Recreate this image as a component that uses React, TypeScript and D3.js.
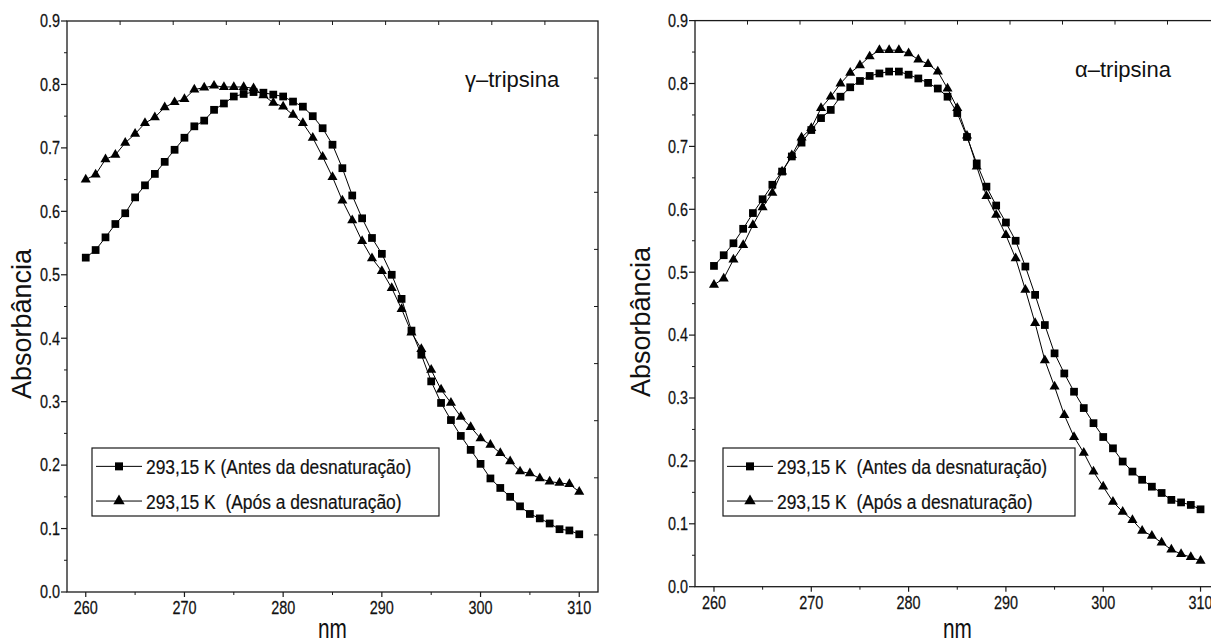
import * as d3 from "d3";

// wavelength (nm), one point per nm
const wavelength = [
  260, 261, 262, 263, 264, 265, 266, 267, 268, 269, 270, 271, 272, 273, 274, 275, 276,
  277, 278, 279, 280, 281, 282, 283, 284, 285, 286, 287, 288, 289, 290, 291, 292, 293,
  294, 295, 296, 297, 298, 299, 300, 301, 302, 303, 304, 305, 306, 307, 308, 309, 310,
];

// gamma-tripsina
const gammaAntes = [
  0.527, 0.539, 0.559, 0.58, 0.597, 0.622, 0.641, 0.659, 0.678, 0.697, 0.716, 0.734, 0.743,
  0.76, 0.77, 0.781, 0.785, 0.788, 0.787, 0.784, 0.781, 0.773, 0.765, 0.75, 0.731, 0.705,
  0.668, 0.625, 0.589, 0.558, 0.533, 0.5, 0.462, 0.412, 0.374, 0.332, 0.298, 0.271, 0.246,
  0.224, 0.202, 0.179, 0.164, 0.15, 0.135, 0.123, 0.116, 0.108, 0.099, 0.097, 0.091,
];
const gammaApos = [
  0.65, 0.658, 0.682, 0.689, 0.708, 0.722, 0.739, 0.748, 0.764, 0.772, 0.777, 0.792, 0.795,
  0.798, 0.796, 0.796, 0.796, 0.794, 0.783, 0.771, 0.765, 0.752, 0.739, 0.716, 0.686, 0.654,
  0.617, 0.586, 0.553, 0.526, 0.506, 0.479, 0.446, 0.409, 0.383, 0.35, 0.319, 0.298, 0.276,
  0.26, 0.242, 0.232, 0.219, 0.206, 0.19, 0.187, 0.179, 0.174, 0.172, 0.17, 0.158,
];

// alpha-tripsina
const alphaAntes = [
  0.51, 0.527, 0.546, 0.569, 0.594, 0.616, 0.639, 0.66, 0.684, 0.706, 0.726, 0.745, 0.758,
  0.779, 0.794, 0.804, 0.812, 0.816, 0.819, 0.819, 0.814, 0.808, 0.801, 0.792, 0.779, 0.753,
  0.715, 0.673, 0.636, 0.606, 0.579, 0.55, 0.509, 0.464, 0.416, 0.371, 0.339, 0.31, 0.284,
  0.26, 0.238, 0.22, 0.199, 0.183, 0.17, 0.159, 0.149, 0.138, 0.134, 0.13, 0.123,
];
const alphaApos = [
  0.48, 0.49, 0.52, 0.543, 0.575, 0.603, 0.626, 0.66, 0.686, 0.714, 0.729, 0.761, 0.779,
  0.8, 0.817, 0.829, 0.843, 0.853, 0.853, 0.853, 0.848, 0.838, 0.831, 0.819, 0.792, 0.761,
  0.717, 0.668, 0.621, 0.591, 0.559, 0.522, 0.472, 0.419, 0.36, 0.318, 0.273, 0.238, 0.213,
  0.183, 0.159, 0.135, 0.119, 0.106, 0.089, 0.081, 0.07, 0.059, 0.052, 0.047, 0.041,
];

const xTicks = [260, 270, 280, 290, 300, 310];
const xMinor = [265, 275, 285, 295, 305];
const yTicks = [0, 0.1, 0.2, 0.3, 0.4, 0.5, 0.6, 0.7, 0.8, 0.9];
const yMinor = [0.05, 0.15, 0.25, 0.35, 0.45, 0.55, 0.65, 0.75, 0.85];
const frameDivs = [1, 2, 3, 4, 5, 6, 7, 8, 9];

const SANS = "'Liberation Sans', Arial, sans-serif";
const INK = "#1a1a1a";

const square = d3.symbol(d3.symbolSquare, 60)()!;
const triangle = d3.symbol(d3.symbolTriangle, 44)()!;
const legendSquare = d3.symbol(d3.symbolSquare, 64)()!;
const legendTriangle = d3.symbol(d3.symbolTriangle, 56)()!;

function NText(props: {
  x: number; y: number; size: number; sx?: number; sy?: number;
  anchor?: string; children: string; rotate?: number; bold?: number;
}) {
  const { x, y, size, sx = 1, sy = 1, anchor = "start", children, rotate = 0, bold = 0 } = props;
  return (
    <text
      transform={`translate(${x},${y}) rotate(${rotate}) scale(${sx},${sy})`}
      fontSize={size}
      fontFamily={SANS}
      textAnchor={anchor}
      fill="#111"
      stroke={bold ? "#111" : "none"}
      strokeWidth={bold}
      style={{ whiteSpace: "pre" }}
    >
      {children}
    </text>
  );
}

type PanelProps = {
  left: number; right: number; top: number; bottom: number;
  xDomain: [number, number];
  antes: number[]; apos: number[];
  title: string; titleX: number; titleY: number;
  legend: { x: number; y: number; w: number; h: number; labels: string[] };
  yLabelX: number; yLabelY: number;
  showRightTicks: boolean;
};

function Panel(p: PanelProps) {
  const x = d3.scaleLinear().domain(p.xDomain).range([p.left, p.right]);
  const y = d3.scaleLinear().domain([0, 0.9]).range([p.bottom, p.top]);
  const fx = d3.scaleLinear().domain([0, 10]).range([p.left, p.right]);
  const fy = d3.scaleLinear().domain([0, 10]).range([p.top, p.bottom]);

  const line = d3
    .line<number>()
    .x((_, i) => x(wavelength[i]))
    .y((d) => y(d));

  const lg = p.legend;
  const rowY = [lg.y + lg.h * 0.27, lg.y + lg.h * 0.78];

  return (
    <g>
      {/* frame */}
      <rect x={p.left} y={p.top} width={p.right - p.left} height={p.bottom - p.top}
        fill="none" stroke={INK} strokeWidth={1.3} />

      {/* top frame ticks (inward) */}
      {frameDivs.map((d) => (
        <line key={"t" + d} x1={fx(d)} x2={fx(d)} y1={p.top} y2={p.top + 4} stroke={INK} />
      ))}
      {p.showRightTicks &&
        frameDivs.map((d) => (
          <line key={"r" + d} x1={p.right} x2={p.right - 4} y1={fy(d)} y2={fy(d)} stroke={INK} />
        ))}

      {/* left axis */}
      {yTicks.map((t) => (
        <g key={"y" + t}>
          <line x1={p.left - 6} x2={p.left} y1={y(t)} y2={y(t)} stroke={INK} strokeWidth={1.2} />
          <NText x={p.left - 7} y={y(t) + 6.3} size={18} sx={0.8} anchor="end" bold={0.25}>
            {t.toFixed(1)}
          </NText>
        </g>
      ))}
      {yMinor.map((t) => (
        <line key={"ym" + t} x1={p.left - 3} x2={p.left} y1={y(t)} y2={y(t)} stroke={INK} />
      ))}

      {/* bottom axis */}
      {xTicks.map((t) => (
        <g key={"x" + t}>
          <line x1={x(t)} x2={x(t)} y1={p.bottom} y2={p.bottom + 5} stroke={INK} strokeWidth={1.2} />
          <NText x={x(t)} y={p.bottom + 22} size={18} sx={0.8} anchor="middle" bold={0.25}>
            {String(t)}
          </NText>
        </g>
      ))}
      {xMinor.map((t) => (
        <line key={"xm" + t} x1={x(t)} x2={x(t)} y1={p.bottom} y2={p.bottom + 3} stroke={INK} />
      ))}

      {/* axis titles */}
      <NText x={(p.left + p.right) / 2} y={638} size={26} sx={0.8} sy={1.05} anchor="middle">
        nm
      </NText>
      <NText x={p.yLabelX} y={p.yLabelY} size={27} rotate={-90} anchor="middle">
        Absorbância
      </NText>

      {/* series */}
      <path d={line(p.antes)!} fill="none" stroke="#000" strokeWidth={1} />
      <path d={line(p.apos)!} fill="none" stroke="#000" strokeWidth={1} />
      {p.antes.map((v, i) => (
        <path key={"s" + i} d={square} transform={`translate(${x(wavelength[i])},${y(v)})`} fill="#000" />
      ))}
      {p.apos.map((v, i) => (
        <path key={"a" + i} d={triangle} transform={`translate(${x(wavelength[i])},${y(v)})`} fill="#000" />
      ))}

      {/* title */}
      <NText x={p.titleX} y={p.titleY} size={22}>
        {p.title}
      </NText>

      {/* legend */}
      <rect x={lg.x} y={lg.y} width={lg.w} height={lg.h} fill="#fff" stroke={INK} strokeWidth={1.2} />
      {rowY.map((ry, i) => (
        <g key={"l" + i}>
          <line x1={lg.x + 4} x2={lg.x + 50} y1={ry} y2={ry} stroke="#000" strokeWidth={1} />
          <path d={i === 0 ? legendSquare : legendTriangle}
            transform={`translate(${lg.x + 27},${ry})`} fill="#000" />
          <NText x={lg.x + 54} y={ry + 7.5} size={21} sx={0.83} bold={0.2}>
            {lg.labels[i]}
          </NText>
        </g>
      ))}
    </g>
  );
}

export default function App() {
  return (
    <svg
      width={1211}
      height={643}
      style={{ position: "absolute", left: 0, top: 0, background: "#fff" }}
    >
      <Panel
        left={67} right={598} top={21} bottom={592}
        xDomain={[258.1, 311.9]}
        antes={gammaAntes} apos={gammaApos}
        title="γ–tripsina" titleX={465} titleY={87}
        legend={{
          x: 92, y: 448, w: 347, h: 68,
          labels: ["293,15 K (Antes da desnaturação)", "293,15 K  (Após a desnaturação)"],
        }}
        yLabelX={31} yLabelY={324}
        showRightTicks={true}
      />
      <Panel
        left={695} right={1220} top={20.6} bottom={586.7}
        xDomain={[258.05, 312]}
        antes={alphaAntes} apos={alphaApos}
        title="α–tripsina" titleX={1075} titleY={77}
        legend={{
          x: 723, y: 448, w: 352, h: 68,
          labels: ["293,15 K  (Antes da desnaturação)", "293,15 K  (Após a desnaturação)"],
        }}
        yLabelX={650} yLabelY={322}
        showRightTicks={false}
      />
    </svg>
  );
}
